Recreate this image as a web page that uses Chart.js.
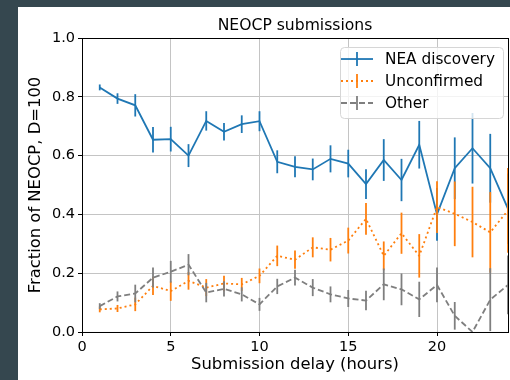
<!DOCTYPE html>
<html>
<head>
<meta charset="utf-8">
<script src="https://cdn.jsdelivr.net/npm/chart.js@4.4.1/dist/chart.umd.min.js"></script>
<style>
  html, body { margin: 0; padding: 0; width: 510px; height: 380px; overflow: hidden; background: #35474f; }
  #wrap { position: absolute; left: 18px; top: 7px; width: 492px; height: 373px; background: #fff; }
</style>
</head>
<body>
<div id="wrap"><canvas id="neocpChart"></canvas></div>
<script>
// submission delay in hours
const delays = [1, 2, 3, 4, 5, 6, 7, 8, 9, 10, 11, 12, 13, 14, 15, 16, 17, 18, 19, 20, 21, 22, 23, 24];

const neaValues = [0.832, 0.794, 0.771, 0.654, 0.656, 0.600, 0.718, 0.681, 0.707, 0.717, 0.579, 0.562,
                   0.553, 0.589, 0.573, 0.503, 0.585, 0.517, 0.637, 0.400, 0.557, 0.625, 0.557, 0.419];
const neaErrors = [0.010, 0.018, 0.038, 0.043, 0.042, 0.039, 0.033, 0.030, 0.030, 0.034, 0.039, 0.036,
                   0.037, 0.046, 0.047, 0.051, 0.071, 0.072, 0.081, 0.090, 0.105, 0.120, 0.117, 0.120];

const unconfirmedValues = [0.077, 0.080, 0.094, 0.157, 0.139, 0.174, 0.151, 0.165, 0.162, 0.191, 0.259, 0.246,
                           0.288, 0.280, 0.311, 0.385, 0.259, 0.336, 0.259, 0.425, 0.402, 0.374, 0.339, 0.414];
const unconfirmedErrors = [0.010, 0.012, 0.023, 0.031, 0.033, 0.030, 0.029, 0.026, 0.022, 0.025, 0.035, 0.031,
                           0.034, 0.040, 0.044, 0.054, 0.049, 0.070, 0.074, 0.088, 0.110, 0.120, 0.137, 0.144];

const otherValues = [0.088, 0.121, 0.131, 0.185, 0.205, 0.229, 0.134, 0.147, 0.128, 0.094, 0.155, 0.185,
                     0.151, 0.128, 0.114, 0.107, 0.162, 0.145, 0.111, 0.160, 0.055, 0.000, 0.110, 0.160];
const otherErrors = [0.010, 0.017, 0.030, 0.034, 0.037, 0.036, 0.033, 0.026, 0.024, 0.022, 0.026, 0.027,
                     0.029, 0.027, 0.029, 0.033, 0.054, 0.054, 0.060, 0.059, 0.047, 0.000, 0.107, 0.100];

const xTicks = [0, 5, 10, 15, 20];
const yTicks = [0.0, 0.2, 0.4, 0.6, 0.8, 1.0];

const FONT = 'DejaVu Sans';
const LW = 1.8;

function points(values) {
  return delays.map((d, i) => ({ x: d, y: values[i] }));
}

// vertical error bars, drawn with each dataset
const errorBars = {
  id: 'errorBars',
  afterDatasetDraw(chart, args) {
    const ds = chart.data.datasets[args.index];
    if (!ds.errors) return;
    const { ctx, chartArea: a, scales: { x, y } } = chart;
    ctx.save();
    ctx.beginPath();
    ctx.rect(a.left, a.top, a.right - a.left, a.bottom - a.top);
    ctx.clip();
    ctx.strokeStyle = ds.borderColor;
    ctx.lineWidth = LW;
    ctx.setLineDash([]);
    ds.data.forEach((p, i) => {
      const e = ds.errors[i];
      if (!e) return;
      const px = x.getPixelForValue(p.x);
      ctx.beginPath();
      ctx.moveTo(px, y.getPixelForValue(p.y - e));
      ctx.lineTo(px, y.getPixelForValue(p.y + e));
      ctx.stroke();
    });
    ctx.restore();
  }
};

// frame + legend in the upper right corner
const frameAndLegend = {
  id: 'frameAndLegend',
  afterDraw(chart) {
    const { ctx, chartArea: a } = chart;
    ctx.save();
    ctx.strokeStyle = '#000';
    ctx.lineWidth = 1;
    ctx.strokeRect(Math.round(a.left) + 0.5, Math.round(a.top) + 0.5, a.right - a.left, a.bottom - a.top);

    const w = 163, h = 71;
    const bx = a.right - 5 - w, by = a.top + 9;
    ctx.beginPath();
    ctx.roundRect(bx + 0.5, by + 0.5, w, h, 4);
    ctx.fillStyle = 'rgba(255,255,255,0.8)';
    ctx.fill();
    ctx.strokeStyle = '#d6d6d6';
    ctx.stroke();

    const rows = [21, 43, 65];
    ctx.font = '15.3px "' + FONT + '"';
    ctx.textBaseline = 'middle';
    chart.data.datasets.forEach((ds, i) => {
      const ry = a.top + rows[i];
      ctx.strokeStyle = ds.borderColor;
      ctx.lineWidth = LW;
      ctx.setLineDash(ds.borderDash || []);
      ctx.beginPath();
      ctx.moveTo(bx + 1, ry);
      ctx.lineTo(bx + 33, ry);
      ctx.stroke();
      ctx.setLineDash([]);
      ctx.beginPath();
      ctx.moveTo(bx + 17, ry - 7);
      ctx.lineTo(bx + 17, ry + 7);
      ctx.stroke();
      ctx.fillStyle = '#000';
      ctx.fillText(ds.label, bx + 45, ry + 1);
    });
    ctx.restore();
  }
};

new Chart(document.getElementById('neocpChart').getContext('2d'), {
  type: 'line',
  data: {
    datasets: [
      {
        label: 'NEA discovery',
        data: points(neaValues),
        errors: neaErrors,
        borderColor: '#1f77b4',
        borderWidth: LW,
        order: 3
      },
      {
        label: 'Unconfirmed',
        data: points(unconfirmedValues),
        errors: unconfirmedErrors,
        borderColor: '#ff7f0e',
        borderWidth: LW,
        borderDash: [2, 3],
        order: 2
      },
      {
        label: 'Other',
        data: points(otherValues),
        errors: otherErrors,
        borderColor: '#7f7f7f',
        borderWidth: LW,
        borderDash: [6, 3],
        order: 1
      }
    ]
  },
  options: {
    responsive: true,
    maintainAspectRatio: false,
    animation: false,
    elements: { point: { radius: 0 }, line: { tension: 0, fill: false } },
    layout: { padding: { left: 0, right: 2, top: 0, bottom: 0 } },
    plugins: {
      legend: { display: false },
      tooltip: { enabled: false },
      title: {
        display: true,
        text: 'NEOCP submissions',
        fullSize: false,
        color: '#000',
        font: { family: FONT, size: 15.6, weight: 'normal' },
        padding: { top: 9.6, bottom: 2.7 }
      }
    },
    scales: {
      x: {
        type: 'linear',
        min: 0,
        max: 24,
        afterBuildTicks: s => { s.ticks = xTicks.map(v => ({ value: v })); },
        afterFit: s => { s.height = 48; },
        grid: { color: '#c4c4c4', lineWidth: 1, tickColor: '#000', tickLength: 4 },
        border: { color: '#000', width: 1 },
        ticks: { color: '#000', padding: 3, font: { family: FONT, size: 14.5 }, maxRotation: 0 },
        title: {
          display: true,
          text: 'Submission delay (hours)',
          color: '#000',
          font: { family: FONT, size: 16.4 },
          padding: { top: 0, bottom: 5.2 }
        }
      },
      y: {
        min: 0,
        max: 1,
        afterBuildTicks: s => { s.ticks = yTicks.map(v => ({ value: v })); },
        afterFit: s => { s.width = 64; },
        grid: { color: '#c4c4c4', lineWidth: 1, tickColor: '#000', tickLength: 4 },
        border: { color: '#000', width: 1 },
        ticks: { color: '#000', padding: 3, font: { family: FONT, size: 14.5 }, callback: v => v.toFixed(1) },
        title: {
          display: true,
          text: 'Fraction of NEOCP, D=100',
          color: '#000',
          font: { family: FONT, size: 16.4 },
          padding: { top: 8.2, bottom: 0 }
        }
      }
    }
  },
  plugins: [errorBars, frameAndLegend]
});
</script>
</body>
</html>
